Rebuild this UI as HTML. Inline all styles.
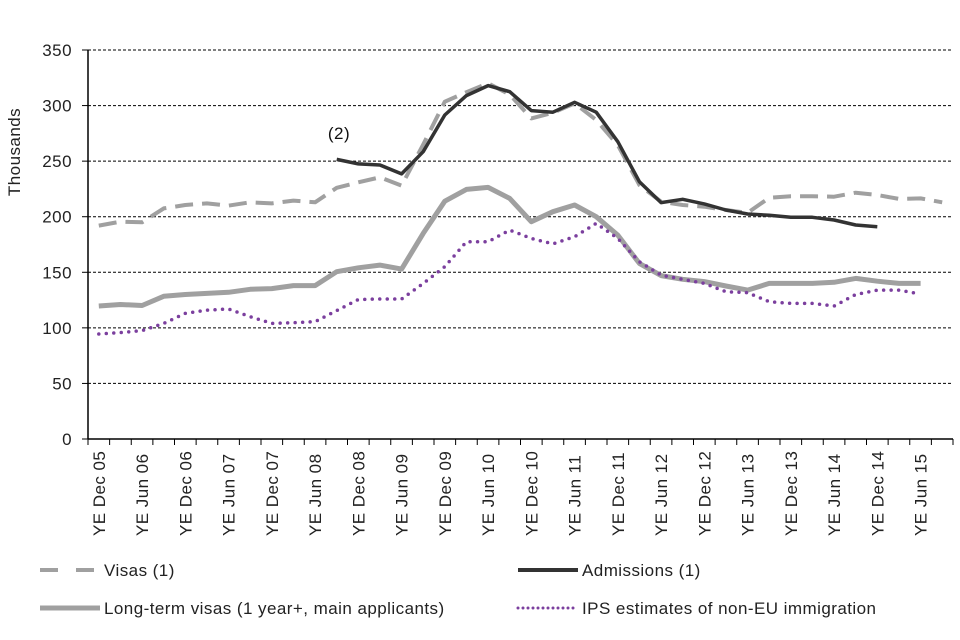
<!DOCTYPE html>
<html><head><meta charset="utf-8"><style>
body{margin:0;background:#fff;}
svg{display:block;font-family:"Liberation Sans",Arial,sans-serif;}
svg text{letter-spacing:0.45px;}
</style></head><body>
<svg id="c" width="960" height="640"></svg>
<script>
const categories=[];
const qs=["Dec","Mar","Jun","Sep"];
for(let i=0;i<40;i++){const q=qs[i%4];const yr=5+Math.floor((i+3)/4);categories.push("YE "+q+" "+String(yr).padStart(2,"0"));}
const visas=[192,195.5,195,207.5,210.5,212,210,213,212,214.5,213,226,231,235.5,228,265,303.5,312,320,310,288.5,293.5,302,287,264.5,228.5,213.5,210.5,209,206,203.5,217,218.5,218.5,218,221.6,219.5,216,216.5,213];
const admissions=[null,null,null,null,null,null,null,null,null,null,null,251.6,247.5,246.5,238.5,258.5,291.5,309,318,312.5,295.5,294,302.9,294,267.5,231.5,212.7,215.7,211.5,206,202.4,201.3,199.5,199.5,197,192.5,191,null,null,null];
const longTerm=[119.7,121,120.1,128.4,130,131,132,134.7,135.3,138,138,150.5,154,156.5,152.9,185,214,224.6,226.4,216.5,195.5,204.5,210.5,200,183.5,158,147,143.7,141.6,137.7,134,140,140,140,141,144.5,142,140,140,null];
const ips=[94.5,95.7,97.5,104,113,116,117,110,104,104.6,105.5,115.5,125.5,126,126,140,155,177.5,177.5,188,180.5,175.5,182,194,180.5,159.5,147.5,143.7,140,132.5,131.6,123.5,122,122,119.7,130,134,134,130.5,null];
const yTicks=[0,50,100,150,200,250,300,350];

const NS="http://www.w3.org/2000/svg";
const svg=document.getElementById("c");
const X0=88,X1=953,Y0=439,Y1=50;
const FS=17;
const bw=(X1-X0)/categories.length;
const xs=i=>X0+bw*(i+0.5);
const ys=v=>Y0-(v/350)*(Y0-Y1);
function mk(t,a,p){const e=document.createElementNS(NS,t);for(const k in a)e.setAttribute(k,a[k]);(p||svg).appendChild(e);return e;}

yTicks.forEach(v=>{
  if(v>0){const g=mk("line",{x1:X0,x2:X1,y1:ys(v),y2:ys(v),stroke:"#000","stroke-width":1,"stroke-dasharray":"3,2"});
  
  }
  const t=mk("text",{x:72,y:ys(v)+6,"text-anchor":"end","font-size":FS,fill:"#222"});t.textContent=v;
  
  
});
const ax=mk("line",{x1:X0,x2:X0,y1:Y1,y2:Y0,stroke:"#000","stroke-width":1.5});


const bx=mk("line",{x1:X0,x2:X1,y1:Y0,y2:Y0,stroke:"#000","stroke-width":1.5});


for(let i=0;i<=categories.length;i++){const x=X0+bw*i;mk("line",{x1:x,x2:x,y1:Y0,y2:Y0+6,stroke:"#000","stroke-width":1});}
mk("line",{x1:X0-6,x2:X0,y1:Y1,y2:Y1,stroke:"#000"});
yTicks.forEach(v=>mk("line",{x1:X0-6,x2:X0,y1:ys(v),y2:ys(v),stroke:"#000"}));
categories.forEach((c,i)=>{if(i%2)return;const x=xs(i)+6;
  const t=mk("text",{x:0,y:0,transform:`translate(${x},536) rotate(-90)`,"font-size":FS,fill:"#222"});t.textContent=c;
  
  });
const yt=mk("text",{transform:"translate(20,152) rotate(-90)","text-anchor":"middle","font-size":FS,fill:"#222"});yt.textContent="Thousands";



function series(arr,attrs,name){let d="",pen=false;arr.forEach((v,i)=>{if(v==null){pen=false;return;}d+=(pen?"L":"M")+xs(i).toFixed(1)+","+ys(v).toFixed(1);pen=true;});
  const p=mk("path",Object.assign({d:d,fill:"none","stroke-linejoin":"round"},attrs));
  
  }
series(longTerm,{stroke:"#a0a0a0","stroke-width":5},'long-term-visas-line');
series(ips,{stroke:"#7b3f9e","stroke-width":3.5,"stroke-dasharray":"0,7.5","stroke-linecap":"round"},'ips-line');
series(visas,{stroke:"#a0a0a0","stroke-width":4,"stroke-dasharray":"18,9"},'visas-line');
series(admissions,{stroke:"#333","stroke-width":3.5},'admissions-line');
const an=mk("text",{x:339,y:139,"text-anchor":"middle","font-size":FS,fill:"#111"});an.textContent="(2)";



function legend(x,y,label,attrs,name){const g=mk("g",{});
  
  
  mk("line",Object.assign({x1:x,x2:x+60,y1:y,y2:y},attrs),g);
  const t=mk("text",{x:x+64,y:y+6,"font-size":FS,fill:"#222"},g);t.textContent=label;}
legend(40,570,"Visas (1)",{stroke:"#a0a0a0","stroke-width":4,"stroke-dasharray":"18,18"},'legend-visas');
legend(518,570,"Admissions (1)",{stroke:"#333","stroke-width":4},'legend-admissions');
legend(40,608,"Long-term visas (1 year+, main applicants)",{stroke:"#a0a0a0","stroke-width":5},'legend-long-term-visas');
legend(518,608,"IPS estimates of non-EU immigration",{stroke:"#7b3f9e","stroke-width":3,"stroke-dasharray":"0,5","stroke-linecap":"round"},'legend-ips');
</script>
</body></html>
